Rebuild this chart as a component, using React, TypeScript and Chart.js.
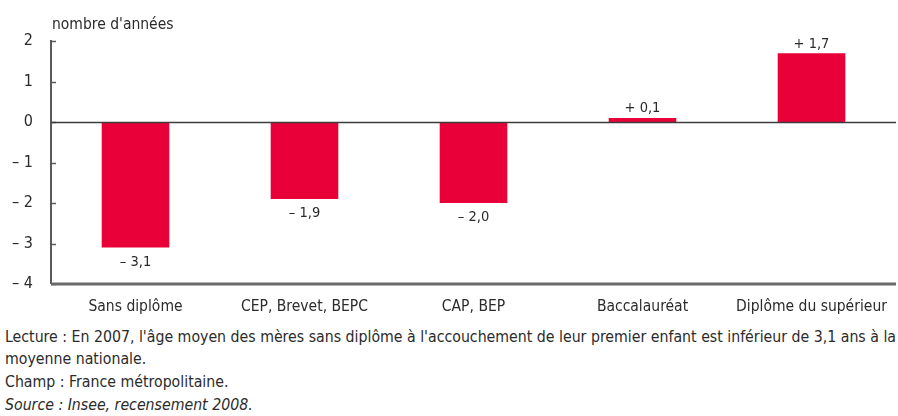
import React, { useEffect, useRef, useState } from "react";
import { Chart, registerables } from "chart.js";

Chart.register(...registerables);

const categories = ["Sans diplôme", "CEP, Brevet, BEPC", "CAP, BEP", "Baccalauréat", "Diplôme du supérieur"];
const values = [-3.1, -1.9, -2.0, 0.1, 1.7];
const yTicks = [2, 1, 0, -1, -2, -3, -4];
const yTitle = "nombre d'années";
const footerLines = [
  "Lecture : En 2007, l'âge moyen des mères sans diplôme à l'accouchement de leur premier enfant est inférieur de 3,1 ans à la",
  "moyenne nationale.",
  "Champ : France métropolitaine.",
];
const sourceLine = "Source : Insee, recensement 2008.";

const FONT = "'DejaVu Sans Condensed', 'Liberation Sans', sans-serif";
const TEXT = "#2b2b2b";
const BAR = "#ea0038";
const FOOT_SIZE = 15;

function fmtNum(v: number): string {
  const s = Math.abs(v).toFixed(1).replace(".", ",");
  return (v < 0 ? "\u2013 " : "+ ") + s;
}
function fmtTick(v: number): string {
  return v < 0 ? "\u2013 " + Math.abs(v) : String(v);
}

const overlay = {
  id: "overlay",
  afterDatasetsDraw(chart: any) {
    const { ctx, chartArea, scales } = chart;
    const y = scales.y;
    const left = chartArea.left;
    const right = chartArea.right;
    ctx.save();
    ctx.strokeStyle = "#5a5a5a";
    ctx.lineWidth = 2;
    ctx.beginPath();
    ctx.moveTo(left, y.getPixelForValue(2) - 1);
    ctx.lineTo(left, y.getPixelForValue(-4));
    ctx.stroke();
    ctx.lineWidth = 1.5;
    yTicks.forEach((t) => {
      const py = Math.round(y.getPixelForValue(t)) + 0.5;
      ctx.beginPath();
      ctx.moveTo(left, py);
      ctx.lineTo(left + 5, py);
      ctx.stroke();
    });
    ctx.strokeStyle = "#3c3c3c";
    ctx.lineWidth = 1.5;
    const z = Math.round(y.getPixelForValue(0)) + 0.5;
    ctx.beginPath();
    ctx.moveTo(left, z);
    ctx.lineTo(right, z);
    ctx.stroke();
    ctx.strokeStyle = "#6a6a6a";
    ctx.lineWidth = 3;
    const b = y.getPixelForValue(-4);
    ctx.beginPath();
    ctx.moveTo(left, b);
    ctx.lineTo(right, b);
    ctx.stroke();
    ctx.fillStyle = TEXT;
    ctx.font = "14.5px " + FONT;
    ctx.textAlign = "center";
    const meta = chart.getDatasetMeta(0);
    meta.data.forEach((el: any, i: number) => {
      const v = values[i];
      if (v < 0) {
        ctx.textBaseline = "top";
        ctx.fillText(fmtNum(v), el.x, el.y + 7);
      } else {
        ctx.textBaseline = "bottom";
        ctx.fillText(fmtNum(v), el.x, el.y - 2);
      }
    });
    ctx.font = "15.5px " + FONT;
    ctx.textAlign = "left";
    ctx.textBaseline = "middle";
    ctx.fillText(yTitle, left + 1, 25);
    ctx.restore();
  },
};

export default function App() {
  const ref = useRef<HTMLCanvasElement | null>(null);
  const [scale, setScale] = useState(1);
  useEffect(() => {
    const c = document.createElement("canvas").getContext("2d");
    if (c) {
      c.font = FOOT_SIZE + "px " + FONT;
      const w = c.measureText(footerLines[0]).width;
      if (w > 0) setScale(891 / w);
    }
  }, []);
  useEffect(() => {
    if (!ref.current) return;
    const chart = new Chart(ref.current, {
      type: "bar",
      data: {
        labels: categories,
        datasets: [
          {
            data: values,
            backgroundColor: BAR,
            borderWidth: 0,
            categoryPercentage: 1,
            barPercentage: 0.4,
          },
        ],
      },
      options: {
        animation: false,
        responsive: false,
        layout: { padding: { top: 41, right: 2, left: 0, bottom: 0 } },
        plugins: { legend: { display: false }, tooltip: { enabled: false } },
        scales: {
          x: {
            grid: { display: false },
            border: { display: false },
            ticks: { color: TEXT, font: { family: FONT, size: 15.5 }, padding: 6, maxRotation: 0 },
            afterFit: (s: any) => {
              s.height = 36;
            },
          },
          y: {
            min: -4,
            max: 2,
            grid: { display: false, drawTicks: false },
            border: { display: false },
            ticks: {
              stepSize: 1,
              color: TEXT,
              font: { family: FONT, size: 16 },
              padding: 18,
              callback: (v: any) => fmtTick(Number(v)),
            },
            afterFit: (s: any) => {
              s.width = 51;
            },
          },
        },
      },
      plugins: [overlay],
    });
    return () => chart.destroy();
  }, []);

  const lineStyle: React.CSSProperties = {
    position: "absolute",
    left: 5,
    fontFamily: FONT,
    fontSize: FOOT_SIZE,
    color: TEXT,
    whiteSpace: "nowrap",
    lineHeight: "16px",
    transform: `scaleX(${scale})`,
    transformOrigin: "0 0",
  };
  const tops = [329, 351, 374, 397];
  return (
    <div style={{ position: "fixed", left: 0, top: 0, width: 898, height: 416, background: "#fff" }}>
      <canvas ref={ref} width={898} height={320} style={{ position: "absolute", left: 0, top: 0 }} />
      {footerLines.map((l, i) => (
        <div key={i} style={{ ...lineStyle, top: tops[i] }}>
          {l}
        </div>
      ))}
      <div style={{ ...lineStyle, top: tops[3], fontStyle: "italic" }}>{sourceLine}</div>
    </div>
  );
}
